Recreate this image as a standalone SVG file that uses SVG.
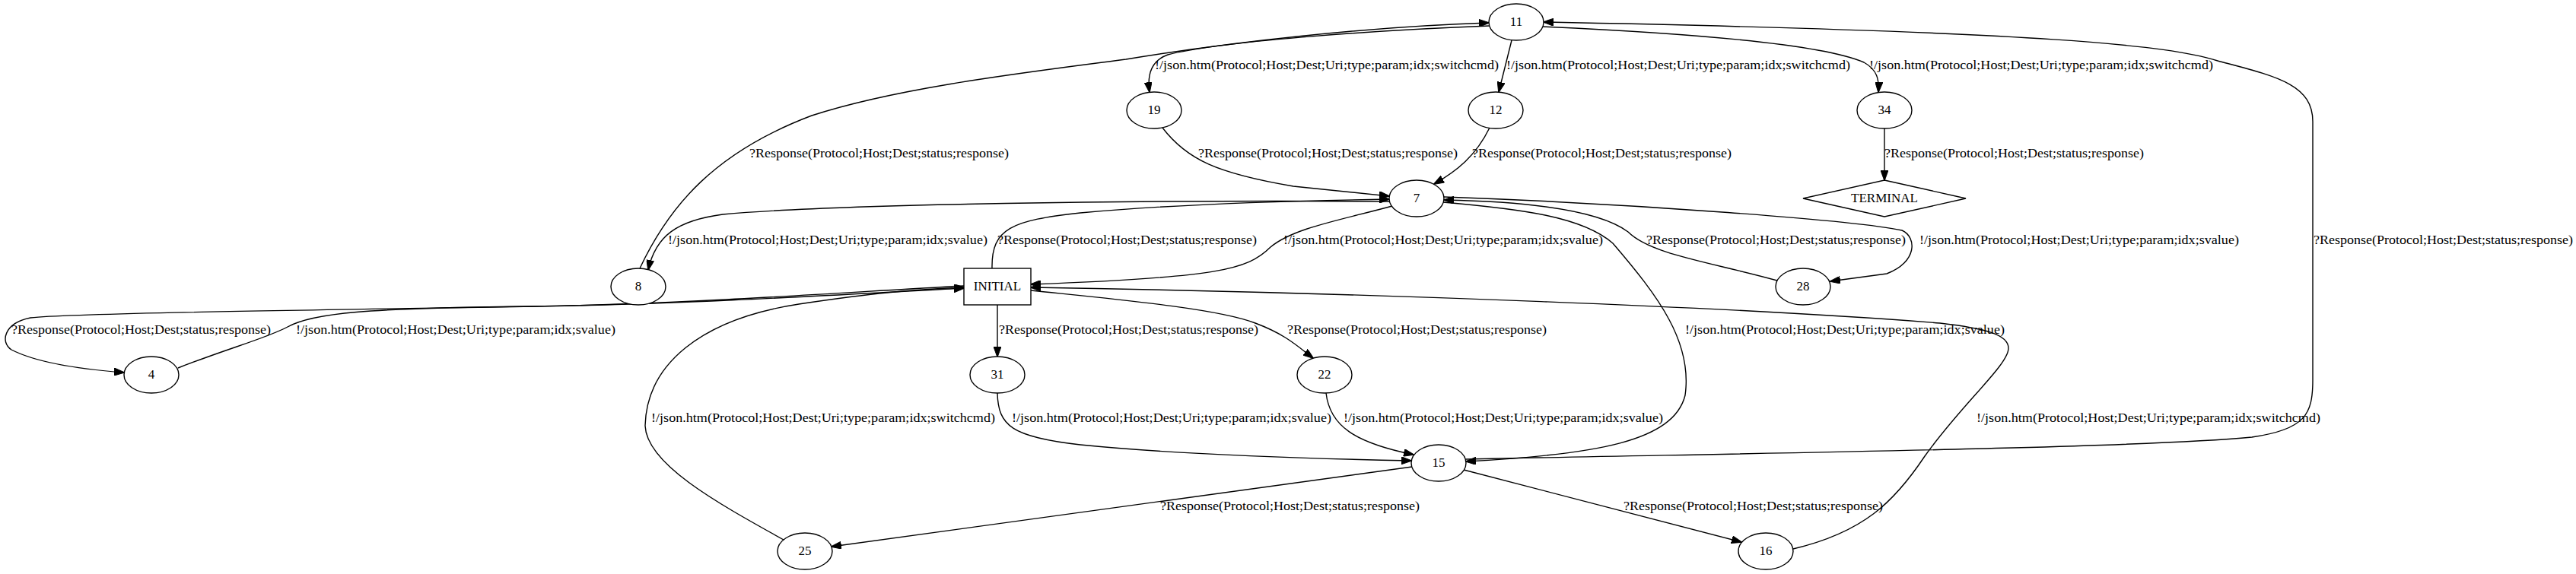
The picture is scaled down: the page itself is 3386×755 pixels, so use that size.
<svg xmlns="http://www.w3.org/2000/svg" width="3386" height="755" viewBox="0 0 3386 755">
<style>
text{font-family:"Liberation Serif","Times New Roman",serif;font-size:17px;fill:#000}
.n text{text-anchor:middle}
.n ellipse,.n rect,.n polygon{fill:#fff;stroke:#000;stroke-width:1.4}
#edges path{fill:none;stroke:#000;stroke-width:1.4;marker-end:url(#arr)}
</style>
<defs>
<marker id="arr" markerWidth="14" markerHeight="10" refX="13" refY="5" orient="auto" markerUnits="userSpaceOnUse"><path d="M0,0 L14,5 L0,10 z" fill="#000" stroke="#000" stroke-width="1"/></marker>
</defs>
<rect width="3386" height="755" fill="#fff"/>
<g id="edges">
<path d="M841,353 C880,270 940,200 1067,152 C1180,115 1350,95 1480,78 C1620,55 1800,35 1957,30"/>
<path d="M1958,34 C1800,40 1600,55 1535,72 C1512,80 1508,100 1511,121"/>
<path d="M1987,53 L1970,121"/>
<path d="M2028,35 C2250,45 2400,60 2450,82 C2468,92 2470,105 2469,121"/>
<path d="M1927,604 C2300,596 2800,590 2960,575 C3030,565 3040,545 3040,500 L3040,160 C3040,110 2990,100 2915,80 C2850,60 2700,42 2029,29"/>
<path d="M1528,168 C1560,210 1600,228 1700,245 L1826,258"/>
<path d="M1958,168 C1940,205 1915,225 1885,242"/>
<path d="M2477,169 L2477,237"/>
<path d="M1826,265 C1500,263 1100,268 950,282 C890,290 862,310 852,355"/>
<path d="M1304,353 C1303,300 1330,290 1420,280 C1550,268 1700,264 1826,262"/>
<path d="M1830,271 C1760,290 1700,300 1670,325 C1640,355 1600,365 1355,374"/>
<path d="M2336,369 C2250,345 2170,335 2140,305 C2100,275 2000,265 1898,263"/>
<path d="M1898,259 C2150,268 2440,290 2500,303 C2520,312 2520,345 2480,360 L2406,370"/>
<path d="M1897,266 C2000,275 2080,285 2120,320 C2180,390 2225,450 2215,520 C2200,580 2100,598 1927,607"/>
<path d="M1267,376 C1100,385 900,400 700,403 C400,408 100,412 40,418 C5,425 0,450 15,460 C50,478 110,486 163,490"/>
<path d="M234,484 C300,458 350,445 378,430 C410,412 480,405 700,403 C900,400 1100,388 1267,379"/>
<path d="M1030,710 C940,660 850,610 848,560 C850,480 920,420 1050,400 C1150,385 1200,381 1267,378"/>
<path d="M1311,401 L1311,469"/>
<path d="M1355,382 C1450,392 1600,405 1650,425 C1690,440 1705,455 1726,471"/>
<path d="M1311,517 C1312,560 1330,575 1420,585 C1550,598 1700,603 1855,606"/>
<path d="M1743,517 C1748,560 1780,582 1858,598"/>
<path d="M1856,614 L1093,719"/>
<path d="M1924,618 L2289,713"/>
<path d="M2357,722 C2450,700 2490,660 2530,600 C2580,530 2640,480 2640,458 C2640,440 2610,432 2550,425 C2300,405 1800,385 1355,378"/>
</g>
<g id="edge-labels">
<text x="1518" y="91" textLength="452" lengthAdjust="spacingAndGlyphs">!/json.htm(Protocol;Host;Dest;Uri;type;param;idx;switchcmd)</text>
<text x="1980" y="91" textLength="452" lengthAdjust="spacingAndGlyphs">!/json.htm(Protocol;Host;Dest;Uri;type;param;idx;switchcmd)</text>
<text x="2457" y="91" textLength="452" lengthAdjust="spacingAndGlyphs">!/json.htm(Protocol;Host;Dest;Uri;type;param;idx;switchcmd)</text>
<text x="985" y="207" textLength="341" lengthAdjust="spacingAndGlyphs">?Response(Protocol;Host;Dest;status;response)</text>
<text x="1575" y="207" textLength="341" lengthAdjust="spacingAndGlyphs">?Response(Protocol;Host;Dest;status;response)</text>
<text x="1935" y="207" textLength="341" lengthAdjust="spacingAndGlyphs">?Response(Protocol;Host;Dest;status;response)</text>
<text x="2477" y="207" textLength="341" lengthAdjust="spacingAndGlyphs">?Response(Protocol;Host;Dest;status;response)</text>
<text x="878" y="321" textLength="420" lengthAdjust="spacingAndGlyphs">!/json.htm(Protocol;Host;Dest;Uri;type;param;idx;svalue)</text>
<text x="1311" y="321" textLength="341" lengthAdjust="spacingAndGlyphs">?Response(Protocol;Host;Dest;status;response)</text>
<text x="1687" y="321" textLength="420" lengthAdjust="spacingAndGlyphs">!/json.htm(Protocol;Host;Dest;Uri;type;param;idx;svalue)</text>
<text x="2164" y="321" textLength="341" lengthAdjust="spacingAndGlyphs">?Response(Protocol;Host;Dest;status;response)</text>
<text x="2523" y="321" textLength="420" lengthAdjust="spacingAndGlyphs">!/json.htm(Protocol;Host;Dest;Uri;type;param;idx;svalue)</text>
<text x="3041" y="321" textLength="341" lengthAdjust="spacingAndGlyphs">?Response(Protocol;Host;Dest;status;response)</text>
<text x="15" y="439" textLength="341" lengthAdjust="spacingAndGlyphs">?Response(Protocol;Host;Dest;status;response)</text>
<text x="389" y="439" textLength="420" lengthAdjust="spacingAndGlyphs">!/json.htm(Protocol;Host;Dest;Uri;type;param;idx;svalue)</text>
<text x="1313" y="439" textLength="341" lengthAdjust="spacingAndGlyphs">?Response(Protocol;Host;Dest;status;response)</text>
<text x="1692" y="439" textLength="341" lengthAdjust="spacingAndGlyphs">?Response(Protocol;Host;Dest;status;response)</text>
<text x="2215" y="439" textLength="420" lengthAdjust="spacingAndGlyphs">!/json.htm(Protocol;Host;Dest;Uri;type;param;idx;svalue)</text>
<text x="856" y="555" textLength="452" lengthAdjust="spacingAndGlyphs">!/json.htm(Protocol;Host;Dest;Uri;type;param;idx;switchcmd)</text>
<text x="1330" y="555" textLength="420" lengthAdjust="spacingAndGlyphs">!/json.htm(Protocol;Host;Dest;Uri;type;param;idx;svalue)</text>
<text x="1766" y="555" textLength="420" lengthAdjust="spacingAndGlyphs">!/json.htm(Protocol;Host;Dest;Uri;type;param;idx;svalue)</text>
<text x="2598" y="555" textLength="452" lengthAdjust="spacingAndGlyphs">!/json.htm(Protocol;Host;Dest;Uri;type;param;idx;switchcmd)</text>
<text x="1525" y="671" textLength="341" lengthAdjust="spacingAndGlyphs">?Response(Protocol;Host;Dest;status;response)</text>
<text x="2134" y="671" textLength="341" lengthAdjust="spacingAndGlyphs">?Response(Protocol;Host;Dest;status;response)</text>
</g>
<g id="n11" class="n"><ellipse cx="1993" cy="29" rx="36" ry="24"/><text x="1993" y="34">11</text></g>
<g id="n19" class="n"><ellipse cx="1517" cy="145" rx="36" ry="24"/><text x="1517" y="150">19</text></g>
<g id="n12" class="n"><ellipse cx="1966" cy="145" rx="36" ry="24"/><text x="1966" y="150">12</text></g>
<g id="n34" class="n"><ellipse cx="2477" cy="145" rx="36" ry="24"/><text x="2477" y="150">34</text></g>
<g id="n7" class="n"><ellipse cx="1862" cy="261" rx="36" ry="24"/><text x="1862" y="266">7</text></g>
<g id="nTERMINAL" class="n"><polygon points="2477,237 2584,261 2477,285 2370,261"/><text x="2477" y="266">TERMINAL</text></g>
<g id="n8" class="n"><ellipse cx="839" cy="377" rx="36" ry="24"/><text x="839" y="382">8</text></g>
<g id="nINITIAL" class="n"><rect x="1267" y="353" width="88" height="48"/><text x="1311" y="382">INITIAL</text></g>
<g id="n28" class="n"><ellipse cx="2370" cy="377" rx="36" ry="24"/><text x="2370" y="382">28</text></g>
<g id="n4" class="n"><ellipse cx="199" cy="493" rx="36" ry="24"/><text x="199" y="498">4</text></g>
<g id="n31" class="n"><ellipse cx="1311" cy="493" rx="36" ry="24"/><text x="1311" y="498">31</text></g>
<g id="n22" class="n"><ellipse cx="1741" cy="493" rx="36" ry="24"/><text x="1741" y="498">22</text></g>
<g id="n15" class="n"><ellipse cx="1891" cy="609" rx="36" ry="24"/><text x="1891" y="614">15</text></g>
<g id="n25" class="n"><ellipse cx="1058" cy="725" rx="36" ry="24"/><text x="1058" y="730">25</text></g>
<g id="n16" class="n"><ellipse cx="2321" cy="725" rx="36" ry="24"/><text x="2321" y="730">16</text></g>
</svg>
